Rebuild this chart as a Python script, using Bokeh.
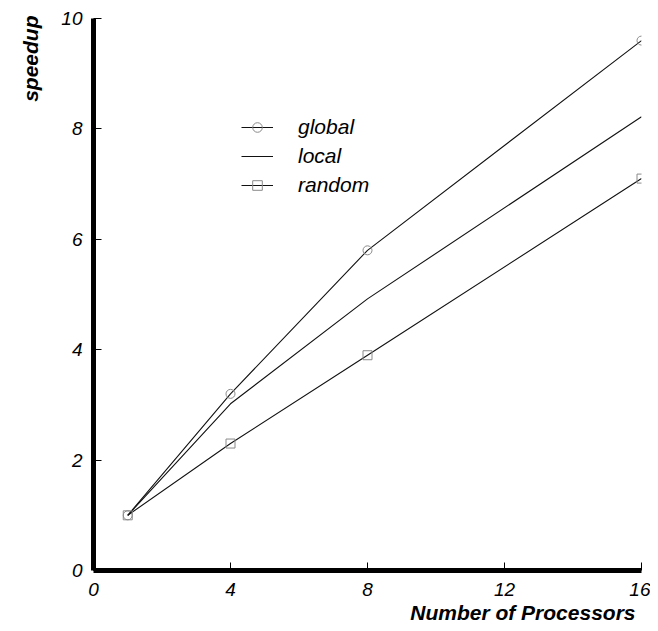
import math
from bokeh.plotting import figure
from bokeh.models import Range1d, FixedTicker, Title, Legend
from bokeh.embed import file_html
from bokeh.resources import INLINE

processors = [1, 4, 8, 16]
global_speedup = [1.0, 3.2, 5.8, 9.6]
local_speedup = [1.0, 3.02, 4.92, 8.22]
random_speedup = [1.0, 2.3, 3.9, 7.1]
x_ticks = [0, 4, 8, 12, 16]
y_ticks = [0, 2, 4, 6, 8, 10]

FONT = "Liberation Sans"
W, H = 650, 623

p = figure(width=W, height=H, output_backend="svg", toolbar_location=None,
           x_range=Range1d(0, 16), y_range=Range1d(0, 10),
           min_border_left=93, min_border_right=9, min_border_top=18, min_border_bottom=53)
p.outline_line_color = None
p.grid.visible = False
p.background_fill_color = "white"
p.border_fill_color = "white"

for ax, ticks in ((p.xaxis[0], x_ticks), (p.yaxis[0], y_ticks)):
    ax.ticker = FixedTicker(ticks=ticks)
    ax.axis_line_width = 5
    ax.axis_line_color = "black"
    ax.major_tick_in = 8
    ax.major_tick_out = 0
    ax.minor_tick_in = 0
    ax.minor_tick_out = 0
    ax.major_tick_line_width = 1
    ax.major_tick_line_color = "black"
    ax.minor_tick_line_color = None
    ax.major_label_text_font = FONT
    ax.major_label_text_font_style = "italic"
    ax.major_label_text_font_size = "19px"
    ax.major_label_text_color = "black"
p.yaxis[0].major_label_standoff = 11
p.xaxis[0].major_label_standoff = 12

line_kw = dict(line_color="#111111", line_width=1.1)
mk_kw = dict(line_color="#8a8a8a", fill_color=None, line_width=1, size=9)

r1 = p.line(processors, global_speedup, **line_kw)
s1 = p.scatter(processors, global_speedup, marker="circle", **mk_kw)
r2 = p.line(processors, local_speedup, **line_kw)
r3 = p.line(processors, random_speedup, **line_kw)
s3 = p.scatter(processors, random_speedup, marker="square", **mk_kw)

legend = Legend(items=[("global", [r1, s1]), ("local", [r2]), ("random", [r3, s3])],
                location=(148, 373), orientation="vertical",
                background_fill_alpha=0, border_line_color=None,
                padding=0, margin=0, spacing=5,
                glyph_width=32, glyph_height=24, label_standoff=25, label_height=24,
                label_text_font=FONT, label_text_font_style="italic",
                label_text_font_size="21px", label_text_color="black")
p.add_layout(legend, "center")

p.add_layout(Title(text="speedup", align="right", offset=-3, standoff=33,
                   text_font=FONT, text_font_style="bold italic", text_font_size="21px",
                   text_color="black"), "left")
p.add_layout(Title(text="Number of Processors", align="right", offset=6, standoff=0,
                   text_font=FONT, text_font_style="bold italic", text_font_size="21px",
                   text_color="black"), "below")

open("out.html", "w").write(file_html(p, INLINE))
